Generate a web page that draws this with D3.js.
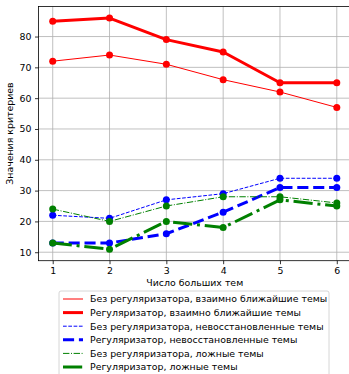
<!DOCTYPE html>
<html>
<head>
<meta charset="utf-8">
<script src="https://cdn.jsdelivr.net/npm/d3@7"></script>
<style>
  html, body { margin: 0; padding: 0; background: #fff; overflow: hidden; }
  svg { display: block; font-family: "DejaVu Sans", sans-serif; }
</style>
</head>
<body>
<svg id="chart" width="349" height="374"></svg>
<script>
// Number of large topics on the x axis
const topicCounts = [1, 2, 3, 4, 5, 6];
const yTicks = [10, 20, 30, 40, 50, 60, 70, 80];

// Criterion values per configuration
const noRegMutual = [72, 74, 71, 66, 62, 57];
const regMutual = [85, 86, 79, 75, 65, 65];
const noRegUnrestored = [22, 21, 27, 29, 34, 34];
const regUnrestored = [13, 13, 16, 23, 31, 31];
const noRegFalse = [24, 20, 25, 28, 28, 26];
const regFalse = [13, 11, 20, 18, 27, 25];

const seriesNames = [
  "Без регуляризатора, взаимно ближайшие темы",
  "Регуляризатор, взаимно ближайшие темы",
  "Без регуляризатора, невосстановленные темы",
  "Регуляризатор, невосстановленные темы",
  "Без регуляризатора, ложные темы",
  "Регуляризатор, ложные темы"
];

const series = [
  { name: seriesNames[0], values: noRegMutual, color: "#ff0000", width: 1, dash: null },
  { name: seriesNames[1], values: regMutual, color: "#ff0000", width: 3, dash: null },
  { name: seriesNames[2], values: noRegUnrestored, color: "#0000ff", width: 1, dash: "3.7,1.6" },
  { name: seriesNames[3], values: regUnrestored, color: "#0000ff", width: 3, dash: "11.1,4.8" },
  { name: seriesNames[4], values: noRegFalse, color: "#008000", width: 1, dash: "6.4,1.6,1,1.6" },
  { name: seriesNames[5], values: regFalse, color: "#008000", width: 3, dash: "19.2,4.8,3,4.8" }
];

const FONT = 9.4;
const svg = d3.select("#chart");
const plot = { left: 38.5, right: 351, top: 6.5, bottom: 260.7 };

const x = d3.scaleLinear().domain([0.75, 6.25]).range([plot.left, plot.right]);
const y = d3.scaleLinear().domain([7.25, 89.75]).range([plot.bottom, plot.top]);

// Grid
const grid = svg.append("g");
grid.selectAll("line.gx").data(topicCounts).join("line")
  .attr("x1", d => x(d)).attr("x2", d => x(d))
  .attr("y1", plot.top).attr("y2", plot.bottom)
  .attr("stroke", "#b0b0b0").attr("stroke-width", 0.8);
grid.selectAll("line.gy").data(yTicks).join("line")
  .attr("y1", d => y(d)).attr("y2", d => y(d))
  .attr("x1", plot.left).attr("x2", plot.right)
  .attr("stroke", "#b0b0b0").attr("stroke-width", 0.8);

// Axes
const xAxis = d3.axisBottom(x).tickValues(topicCounts).tickFormat(d3.format("d")).tickSize(3.5).tickPadding(3.5);
const yAxis = d3.axisLeft(y).tickValues(yTicks).tickFormat(d3.format("d")).tickSize(3.5).tickPadding(3.5);

const gx = svg.append("g").attr("transform", `translate(0,${plot.bottom})`).call(xAxis);
const gy = svg.append("g").attr("transform", `translate(${plot.left},0)`).call(yAxis);
[gx, gy].forEach(g => {
  g.select(".domain").remove();
  g.selectAll("text").attr("font-size", FONT).attr("fill", "#000").attr("font-family", "DejaVu Sans");
  g.selectAll(".tick line").attr("stroke", "#000").attr("stroke-width", 0.8);
});

// Series lines and markers
const line = d3.line().x((d, i) => x(topicCounts[i])).y(d => y(d));

const marks = svg.append("g");
series.forEach(s => {
  marks.append("path")
    .datum(s.values)
    .attr("d", line)
    .attr("fill", "none")
    .attr("stroke", s.color)
    .attr("stroke-width", s.width)
    .attr("stroke-dasharray", s.dash)
    .attr("stroke-linejoin", "round");
  marks.selectAll(null).data(s.values).join("circle")
    .attr("cx", (d, i) => x(topicCounts[i]))
    .attr("cy", d => y(d))
    .attr("r", 3.5)
    .attr("fill", s.color);
});

// Spines
svg.append("rect")
  .attr("x", plot.left).attr("y", plot.top)
  .attr("width", plot.right - plot.left).attr("height", plot.bottom - plot.top)
  .attr("fill", "none").attr("stroke", "#000").attr("stroke-width", 0.8);

// Axis labels
svg.append("text")
  .attr("x", (plot.left + plot.right) / 2).attr("y", 286)
  .attr("text-anchor", "middle").attr("font-size", FONT)
  .text("Число больших тем");
svg.append("text")
  .attr("transform", `translate(13,${(plot.top + plot.bottom) / 2}) rotate(-90)`)
  .attr("text-anchor", "middle").attr("font-size", FONT)
  .text("Значения критериев");

// Legend
const legend = svg.append("g");
const lg = { x: 59, y: 291, w: 270, h: 92, row: 13.6 };
legend.append("rect")
  .attr("x", lg.x).attr("y", lg.y).attr("width", lg.w).attr("height", lg.h)
  .attr("rx", 2).attr("fill", "#fff").attr("fill-opacity", 0.8)
  .attr("stroke", "#cccccc").attr("stroke-width", 0.8);
series.forEach((s, i) => {
  const cy = 299 + i * lg.row;
  legend.append("line")
    .attr("x1", 63).attr("x2", 83).attr("y1", cy).attr("y2", cy)
    .attr("stroke", s.color).attr("stroke-width", s.width)
    .attr("stroke-dasharray", s.dash);
  legend.append("text")
    .attr("x", 90).attr("y", cy + 3.3)
    .attr("font-size", FONT)
    .text(s.name);
});
</script>
</body>
</html>
